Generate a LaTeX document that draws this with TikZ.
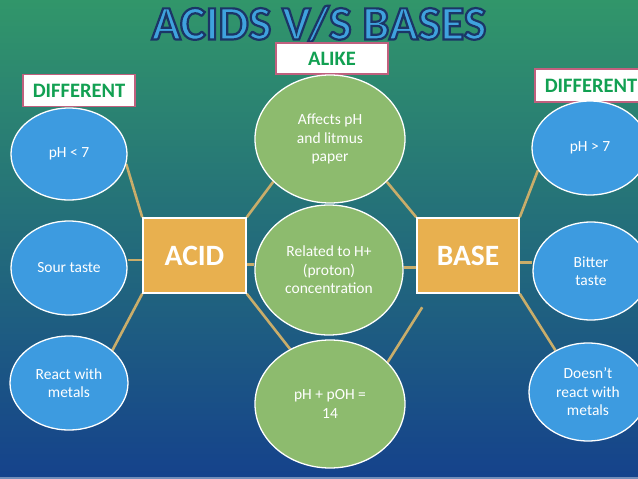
\documentclass[tikz,border=0pt]{standalone}
\usepackage{fontspec}
\setmainfont{Carlito}
\usetikzlibrary{
  positioning,
  calc,
  shapes.geometric
}
\definecolor{bgtop}{HTML}{31966A}
\definecolor{bgmid}{HTML}{25788A}
\definecolor{bgbot}{HTML}{15428C}
\definecolor{bubblec}{HTML}{3D9BE0}
\definecolor{commonc}{HTML}{8DBB6E}
\definecolor{corec}{HTML}{E8B04F}
\definecolor{ropec}{HTML}{C9AD6A}
\definecolor{tagc}{HTML}{C0607E}
\definecolor{tagtextc}{HTML}{12A052}
\definecolor{titlec}{HTML}{3FA2DE}
\pgfdeclarelayer{backdrop}
\pgfdeclarelayer{links}
\pgfsetlayers{backdrop,links,main}
% outlined title letters: fill + navy stroke
\newcommand{\outlined}[1]{%
  \special{pdf:literal direct 2 Tr 2.2 w 0.106 0.208 0.4 RG}#1%
  \special{pdf:literal direct 0 Tr 0.4 w}}

\begin{document}
\begin{tikzpicture}[
  x=1pt, y=-1pt,
  bubble/.style={ellipse, draw=white, line width=1.3pt, fill=bubblec, text=white,
                 inner sep=0pt, align=center, font=\fontsize{15.5}{18.5}\selectfont},
  same/.style={bubble, fill=commonc},
  hub/.style={draw=white, line width=1.5pt, fill=corec, text=white, inner sep=0pt,
              minimum width=103pt, minimum height=75pt,
              font=\fontsize{29.5}{32}\selectfont\bfseries},
  tag/.style={draw=tagc, line width=1.2pt, fill=white, text=tagtextc, inner sep=0pt,
              minimum width=112pt, minimum height=32pt,
              font=\fontsize{20.5}{22}\selectfont\bfseries},
  rope/.style={draw=ropec, line width=2.6pt},
  headline/.style={anchor=base, inner sep=0pt, text=titlec,
                   font=\fontsize{48}{50}\selectfont\bfseries}
]
  \useasboundingbox (0,0) rectangle (638,479);
  \clip (0,0) rectangle (638,479);

  % Background
  \begin{pgfonlayer}{backdrop}
    \shade[top color=bgtop, middle color=bgmid, bottom color=bgbot]
      (0,0) rectangle (638,479);
    \fill[bgbot!60!white] (0,477) rectangle (638,479);
  \end{pgfonlayer}

  % Title
  \node[headline] (title) at (319,39.5) {\outlined{ACIDS V/S BASES}};

  % Labels
  \node[tag] (difl) at (79,90.5) {DIFFERENT};
  \node[tag, minimum height=31pt] (alike) at (332,58.5) {ALIKE};
  \node[tag, minimum height=33pt] (difr) at (591,85.5) {DIFFERENT};

  % Acid side
  \node[hub] (acid) at (194.5,255.5) {ACID};
  \node[bubble, minimum width=116pt, minimum height=92pt] (phlow) at (69,154) {pH < 7};
  \node[bubble, minimum width=116pt, minimum height=94pt] (sour) at (69,268) {Sour taste};
  \node[bubble, minimum width=118pt, minimum height=94pt] (metal) at (69,383) {React with\\metals};

  % Shared properties
  \node[same, minimum width=150pt, minimum height=128pt] (litmus) at (330,139)
    {Affects pH\\and litmus\\paper};
  \node[same, minimum width=148pt, minimum height=130pt] (proton) at (329,270)
    {Related to H+\\(proton)\\concentration};
  \node[same, minimum width=150pt, minimum height=128pt] (scale) at (330,404)
    {pH + pOH =\\14};

  % Base side
  \node[hub, minimum width=102pt] (base) at (468,255.5) {BASE};
  \node[bubble, minimum width=116pt, minimum height=94pt] (phhigh) at (590,148) {pH > 7};
  \node[bubble, minimum width=116pt, minimum height=98pt] (bitter) at (591,271) {Bitter\\taste};
  \node[bubble, minimum width=118pt, minimum height=98pt] (nometal) at (588,392)
    {Doesn’t\\react with\\metals};

  % Connectors
  \begin{pgfonlayer}{links}
    \draw[rope] (phlow.-10) -- (acid.north west);
    \draw[rope] (acid.185) -- (acid.185 -| sour.east);
    \draw[rope] (metal.37) -- (acid.south west);
    \draw[rope] (acid.north east) -- (litmus.217);
    \draw[rope] (acid.-10) -- (acid.-10 -| proton.west);
    \draw[rope] (acid.south east) -- (scale.126);
    \draw[rope] (litmus.323) -- (base.north west);
    \draw[rope] (base.193) -- (base.193 -| proton.east);
    \draw[rope, shorten <=16pt] ($(base.south west)!0.14!(base.south east)$) -- (scale.36);
    \draw[rope] (base.north east) -- (phhigh.203);
    \draw[rope] (base.-8) -- (base.-8 -| bitter.west);
    \draw[rope] (base.south east) -- (nometal.128);
  \end{pgfonlayer}
\end{tikzpicture}
\end{document}
